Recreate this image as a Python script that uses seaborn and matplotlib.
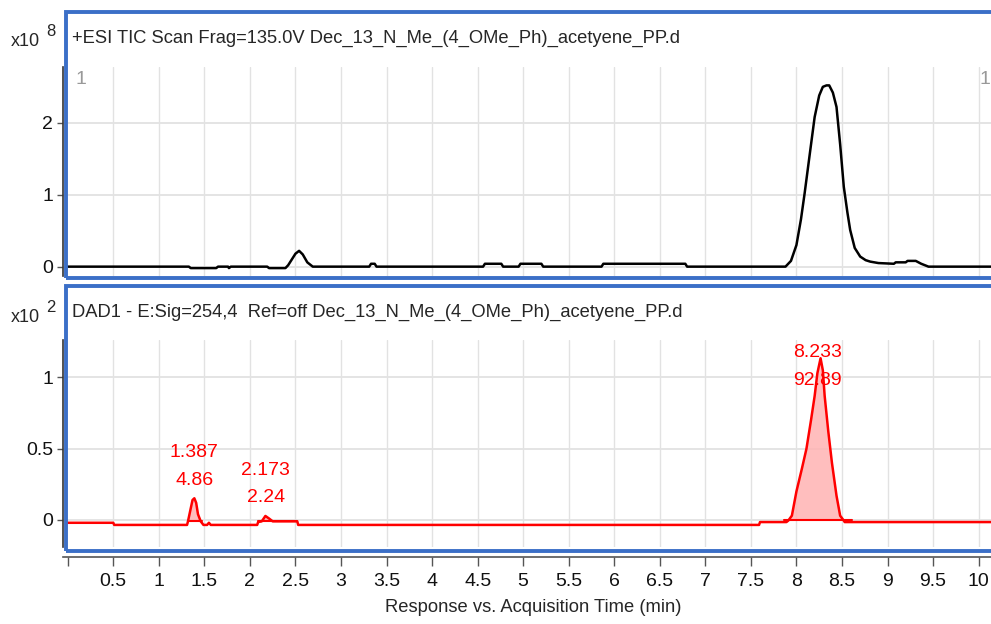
import matplotlib
matplotlib.use("Agg")
import matplotlib.pyplot as plt
from matplotlib.patches import Rectangle
import numpy as np
import pandas as pd
import seaborn as sns

# TIC trace (x10^8)
tic_time = [0.00, 1.33, 1.35, 1.63, 1.65, 1.76, 1.77, 1.79, 2.19, 2.21, 2.39, 2.42,
            2.46, 2.50, 2.54, 2.58, 2.63, 2.67, 2.69, 3.31, 3.33, 3.37, 3.39, 4.56,
            4.58, 4.76, 4.78, 4.95, 4.97, 5.20, 5.22, 5.86, 5.88, 6.78, 6.80, 7.88,
            7.94, 8.00, 8.05, 8.09, 8.15, 8.20, 8.25, 8.29, 8.33, 8.36, 8.40, 8.44,
            8.48, 8.52, 8.56, 8.59, 8.64, 8.70, 8.76, 8.81, 8.90, 9.07, 9.09, 9.20,
            9.22, 9.31, 9.37, 9.45, 10.20]
tic_value = [0.00, 0.00, -0.02, -0.02, 0.00, 0.00, -0.02, 0.00, 0.00, -0.02, -0.02, 0.02,
             0.10, 0.18, 0.22, 0.17, 0.06, 0.02, 0.00, 0.00, 0.04, 0.04, 0.00, 0.00,
             0.04, 0.04, 0.00, 0.00, 0.04, 0.04, 0.00, 0.00, 0.04, 0.04, 0.00, 0.00,
             0.08, 0.30, 0.66, 1.02, 1.60, 2.08, 2.38, 2.50, 2.52, 2.52, 2.42, 2.22,
             1.70, 1.11, 0.75, 0.51, 0.26, 0.14, 0.09, 0.07, 0.05, 0.04, 0.06, 0.06,
             0.08, 0.08, 0.04, 0.00, 0.00]

# DAD trace (x10^2)
dad_time = [0.00, 0.50, 0.51, 1.31, 1.32, 1.34, 1.37, 1.39, 1.41, 1.43, 1.46, 1.49,
            1.53, 1.55, 1.57, 2.08, 2.09, 2.13, 2.17, 2.21, 2.25, 2.52, 2.53, 7.59,
            7.60, 7.89, 7.91, 7.95, 8.00, 8.06, 8.11, 8.16, 8.20, 8.23, 8.265, 8.29,
            8.31, 8.35, 8.39, 8.44, 8.48, 8.52, 8.53, 10.20]
dad_value = [-0.02, -0.02, -0.035, -0.035, -0.01, 0.05, 0.14, 0.152, 0.12, 0.04, -0.01, -0.035,
             -0.035, -0.02, -0.035, -0.035, -0.015, -0.01, 0.028, 0.01, -0.01, -0.01, -0.035, -0.035,
             -0.015, -0.015, -0.005, 0.03, 0.20, 0.36, 0.50, 0.70, 0.87, 1.03, 1.135, 1.05,
             0.87, 0.62, 0.40, 0.17, 0.03, -0.005, -0.015, -0.015]

# integrated peaks
peak_rt = ["1.387", "2.173", "8.233"]
peak_area = ["4.86", "2.24", "92.89"]
peak_start = [1.32, 2.09, 7.86]
peak_end = [1.47, 2.52, 8.61]
peak_base = [-0.01, -0.01, 0.0]

tic_title = "+ESI TIC Scan Frag=135.0V Dec_13_N_Me_(4_OMe_Ph)_acetyene_PP.d"
dad_title = "DAD1 - E:Sig=254,4  Ref=off Dec_13_N_Me_(4_OMe_Ph)_acetyene_PP.d"
x_label = "Response vs. Acquisition Time (min)"

sns.set_style("white")
plt.rcParams["font.family"] = ["Liberation Sans", "DejaVu Sans"]

W, H = 991, 624
fig = plt.figure(figsize=(W / 100, H / 100), dpi=100)


def box(x0, y0, x1, y1):
    return [x0 / W, 1 - y1 / H, (x1 - x0) / W, (y1 - y0) / H]


xlim = (-0.052, 10.18)
blue = "#3b6fc7"
grid_c = "#e2e2e2"
fs_tick = 14
fs_text = 13.2

ax_tic = fig.add_axes(box(63, 66.7, 995, 276))
ax_dad = fig.add_axes(box(63, 340, 995, 547))

tic = pd.DataFrame({"time": tic_time, "value": tic_value})
dad = pd.DataFrame({"time": dad_time, "value": dad_value})

sns.lineplot(data=tic, x="time", y="value", ax=ax_tic, color="black", lw=1.8,
             estimator=None, sort=False, zorder=3)
sns.lineplot(data=dad, x="time", y="value", ax=ax_dad, color="#ff0000", lw=1.8,
             estimator=None, sort=False, zorder=3)

# shaded integrated peaks
t = np.array(dad_time)
v = np.array(dad_value)
for s, e, b in zip(peak_start, peak_end, peak_base):
    m = (t >= s) & (t <= e)
    ax_dad.fill_between(t[m], np.maximum(v[m], b), b, color="#ffb3b3", alpha=0.85,
                        lw=0, zorder=2)
    ax_dad.plot([s, e], [b, b], color="#ff0000", lw=1.5, zorder=3)

# peak labels (offsets in points above the apex)
label_offsets = [(33, 13), (33, 13), (4, -16)]
for i, (rt, area) in enumerate(zip(peak_rt, peak_area)):
    xr = float(rt)
    m = (t >= peak_start[i]) & (t <= peak_end[i])
    top = v[m].max()
    o1, o2 = label_offsets[i]
    ax_dad.annotate(rt, (xr, top), xytext=(0, o1), textcoords="offset points",
                    ha="center", va="center", color="#ff0000", fontsize=fs_tick)
    ax_dad.annotate(area, (xr, top), xytext=(0, o2), textcoords="offset points",
                    ha="center", va="center", color="#ff0000", fontsize=fs_tick)

xt = np.arange(0, 10.01, 0.5)
for ax, yt, ylim in [(ax_tic, [0, 1, 2], (-0.13, 2.78)),
                     (ax_dad, [0, 0.5, 1], (-0.19, 1.263))]:
    ax.set_xlim(*xlim)
    ax.set_ylim(*ylim)
    ax.set_xticks(xt)
    ax.set_yticks(yt)
    ax.set_yticklabels([f"{y:g}" for y in yt])
    for x in xt[1:]:
        ax.axvline(x, color=grid_c, lw=1, zorder=1)
    for y in yt:
        ax.axhline(y, color=grid_c, lw=1.3, zorder=1)
    ax.set_xlabel("")
    ax.set_ylabel("")
    for sp in ["top", "right", "bottom"]:
        ax.spines[sp].set_visible(False)
    ax.spines["left"].set_color("#333333")
    ax.spines["left"].set_linewidth(1.2)
    ax.tick_params(axis="y", left=True, length=4, width=1, color="#555555",
                   pad=3, labelsize=fs_tick, labelcolor="#111111")

ax_tic.tick_params(axis="x", bottom=False, labelbottom=False)
ax_dad.spines["bottom"].set_visible(True)
ax_dad.spines["bottom"].set_position(("outward", 7.5))
ax_dad.spines["bottom"].set_color("#555555")
ax_dad.spines["bottom"].set_linewidth(1.2)
ax_dad.tick_params(axis="x", bottom=True, length=6.5, width=1, color="#555555",
                   pad=5, labelsize=fs_tick, labelcolor="#111111")
ax_dad.set_xticklabels([""] + [f"{x:g}" for x in xt[1:]])

# scan markers in the TIC panel
ax_tic.text(0.08, 2.6, "1", color="#999999", fontsize=fs_tick, va="center")
ax_tic.text(10.13, 2.6, "1", color="#999999", fontsize=fs_tick, va="center", ha="right")

# blue panel frames
for y0, y1 in [(11.5, 277.5), (285.5, 550.5)]:
    fig.patches.append(Rectangle((65.5 / W, 1 - y1 / H), 940 / W, (y1 - y0) / H,
                                 transform=fig.transFigure, fill=False,
                                 edgecolor=blue, lw=2.8, zorder=5))

fig.text(72 / W, 1 - 38 / H, tic_title, fontsize=fs_text, va="center", ha="left")
fig.text(72 / W, 1 - 312 / H, dad_title, fontsize=fs_text, va="center", ha="left")
for yc, ex in [(42, "8"), (318, "2")]:
    fig.text(11 / W, 1 - yc / H, "x10", fontsize=fs_tick - 1, va="center", ha="left")
    fig.text(46 / W, 1 - (yc - 10) / H, ex, fontsize=fs_tick - 2, va="center", ha="left")

fig.text(533 / W, 1 - 607 / H, x_label, fontsize=fs_text, ha="center", va="center")

fig.savefig("out.png", dpi=100)
